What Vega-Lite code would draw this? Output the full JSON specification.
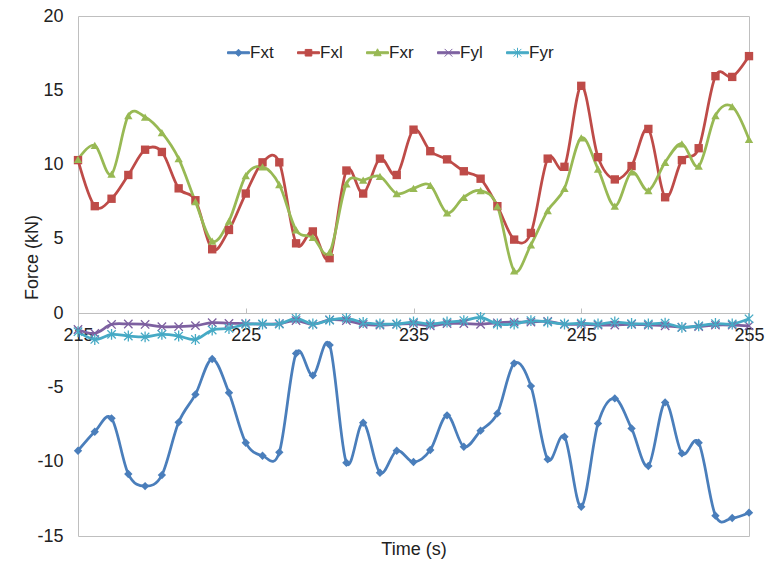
{
"$schema": "https://vega.github.io/schema/vega-lite/v6.json",
"width": 671, "height": 520,
"autosize": "none",
"padding": {"left": 78, "top": 16, "right": 19, "bottom": 33},
"background": "white",
"config": {"view": {"stroke": "#bfbfbf", "strokeWidth": 1}, "font": "Liberation Sans", "axis": {"grid": false}},
"data": {"values": [
{"t":215,"s":"Fxt","v":-9.26},{"t":216,"s":"Fxt","v":-7.98},{"t":217,"s":"Fxt","v":-7.08},{"t":218,"s":"Fxt","v":-10.83},{"t":219,"s":"Fxt","v":-11.64},{"t":220,"s":"Fxt","v":-10.9},{"t":221,"s":"Fxt","v":-7.35},{"t":222,"s":"Fxt","v":-5.47},{"t":223,"s":"Fxt","v":-3.09},{"t":224,"s":"Fxt","v":-5.36},{"t":225,"s":"Fxt","v":-8.72},{"t":226,"s":"Fxt","v":-9.6},{"t":227,"s":"Fxt","v":-9.37},{"t":228,"s":"Fxt","v":-2.71},{"t":229,"s":"Fxt","v":-4.19},{"t":230,"s":"Fxt","v":-2.15},{"t":231,"s":"Fxt","v":-10.07},{"t":232,"s":"Fxt","v":-7.38},{"t":233,"s":"Fxt","v":-10.74},{"t":234,"s":"Fxt","v":-9.26},{"t":235,"s":"Fxt","v":-10.02},{"t":236,"s":"Fxt","v":-9.21},{"t":237,"s":"Fxt","v":-6.88},{"t":238,"s":"Fxt","v":-8.99},{"t":239,"s":"Fxt","v":-7.91},{"t":240,"s":"Fxt","v":-6.75},{"t":241,"s":"Fxt","v":-3.38},{"t":242,"s":"Fxt","v":-4.91},{"t":243,"s":"Fxt","v":-9.84},{"t":244,"s":"Fxt","v":-8.32},{"t":245,"s":"Fxt","v":-13.03},{"t":246,"s":"Fxt","v":-7.42},{"t":247,"s":"Fxt","v":-5.74},{"t":248,"s":"Fxt","v":-7.76},{"t":249,"s":"Fxt","v":-10.29},{"t":250,"s":"Fxt","v":-6.01},{"t":251,"s":"Fxt","v":-9.44},{"t":252,"s":"Fxt","v":-8.72},{"t":253,"s":"Fxt","v":-13.63},{"t":254,"s":"Fxt","v":-13.79},{"t":255,"s":"Fxt","v":-13.43},
{"t":215,"s":"Fxl","v":10.3},{"t":216,"s":"Fxl","v":7.2},{"t":217,"s":"Fxl","v":7.7},{"t":218,"s":"Fxl","v":9.3},{"t":219,"s":"Fxl","v":11.0},{"t":220,"s":"Fxl","v":10.85},{"t":221,"s":"Fxl","v":8.4},{"t":222,"s":"Fxl","v":7.6},{"t":223,"s":"Fxl","v":4.3},{"t":224,"s":"Fxl","v":5.6},{"t":225,"s":"Fxl","v":8.05},{"t":226,"s":"Fxl","v":10.15},{"t":227,"s":"Fxl","v":10.15},{"t":228,"s":"Fxl","v":4.7},{"t":229,"s":"Fxl","v":5.5},{"t":230,"s":"Fxl","v":3.7},{"t":231,"s":"Fxl","v":9.6},{"t":232,"s":"Fxl","v":8.05},{"t":233,"s":"Fxl","v":10.4},{"t":234,"s":"Fxl","v":9.3},{"t":235,"s":"Fxl","v":12.35},{"t":236,"s":"Fxl","v":10.9},{"t":237,"s":"Fxl","v":10.35},{"t":238,"s":"Fxl","v":9.55},{"t":239,"s":"Fxl","v":9.05},{"t":240,"s":"Fxl","v":7.2},{"t":241,"s":"Fxl","v":4.95},{"t":242,"s":"Fxl","v":5.4},{"t":243,"s":"Fxl","v":10.4},{"t":244,"s":"Fxl","v":9.85},{"t":245,"s":"Fxl","v":15.3},{"t":246,"s":"Fxl","v":10.5},{"t":247,"s":"Fxl","v":9.0},{"t":248,"s":"Fxl","v":9.9},{"t":249,"s":"Fxl","v":12.4},{"t":250,"s":"Fxl","v":7.8},{"t":251,"s":"Fxl","v":10.3},{"t":252,"s":"Fxl","v":11.1},{"t":253,"s":"Fxl","v":15.95},{"t":254,"s":"Fxl","v":15.9},{"t":255,"s":"Fxl","v":17.3},
{"t":215,"s":"Fxr","v":10.35},{"t":216,"s":"Fxr","v":11.3},{"t":217,"s":"Fxr","v":9.35},{"t":218,"s":"Fxr","v":13.3},{"t":219,"s":"Fxr","v":13.2},{"t":220,"s":"Fxr","v":12.15},{"t":221,"s":"Fxr","v":10.4},{"t":222,"s":"Fxr","v":7.5},{"t":223,"s":"Fxr","v":4.85},{"t":224,"s":"Fxr","v":6.2},{"t":225,"s":"Fxr","v":9.25},{"t":226,"s":"Fxr","v":9.85},{"t":227,"s":"Fxr","v":8.65},{"t":228,"s":"Fxr","v":5.6},{"t":229,"s":"Fxr","v":5.1},{"t":230,"s":"Fxr","v":4.1},{"t":231,"s":"Fxr","v":8.7},{"t":232,"s":"Fxr","v":8.95},{"t":233,"s":"Fxr","v":9.2},{"t":234,"s":"Fxr","v":8.05},{"t":235,"s":"Fxr","v":8.4},{"t":236,"s":"Fxr","v":8.6},{"t":237,"s":"Fxr","v":6.75},{"t":238,"s":"Fxr","v":7.8},{"t":239,"s":"Fxr","v":8.25},{"t":240,"s":"Fxr","v":7.2},{"t":241,"s":"Fxr","v":2.85},{"t":242,"s":"Fxr","v":4.6},{"t":243,"s":"Fxr","v":6.9},{"t":244,"s":"Fxr","v":8.4},{"t":245,"s":"Fxr","v":11.8},{"t":246,"s":"Fxr","v":9.7},{"t":247,"s":"Fxr","v":7.2},{"t":248,"s":"Fxr","v":9.5},{"t":249,"s":"Fxr","v":8.25},{"t":250,"s":"Fxr","v":10.15},{"t":251,"s":"Fxr","v":11.4},{"t":252,"s":"Fxr","v":9.9},{"t":253,"s":"Fxr","v":13.3},{"t":254,"s":"Fxr","v":13.9},{"t":255,"s":"Fxr","v":11.7},
{"t":215,"s":"Fyl","v":-1.1},{"t":216,"s":"Fyl","v":-1.36},{"t":217,"s":"Fyl","v":-0.76},{"t":218,"s":"Fyl","v":-0.73},{"t":219,"s":"Fyl","v":-0.76},{"t":220,"s":"Fyl","v":-0.91},{"t":221,"s":"Fyl","v":-0.91},{"t":222,"s":"Fyl","v":-0.84},{"t":223,"s":"Fyl","v":-0.64},{"t":224,"s":"Fyl","v":-0.69},{"t":225,"s":"Fyl","v":-0.7},{"t":226,"s":"Fyl","v":-0.75},{"t":227,"s":"Fyl","v":-0.7},{"t":228,"s":"Fyl","v":-0.5},{"t":229,"s":"Fyl","v":-0.75},{"t":230,"s":"Fyl","v":-0.45},{"t":231,"s":"Fyl","v":-0.5},{"t":232,"s":"Fyl","v":-0.75},{"t":233,"s":"Fyl","v":-0.8},{"t":234,"s":"Fyl","v":-0.75},{"t":235,"s":"Fyl","v":-0.7},{"t":236,"s":"Fyl","v":-0.85},{"t":237,"s":"Fyl","v":-0.7},{"t":238,"s":"Fyl","v":-0.7},{"t":239,"s":"Fyl","v":-0.75},{"t":240,"s":"Fyl","v":-0.65},{"t":241,"s":"Fyl","v":-0.6},{"t":242,"s":"Fyl","v":-0.6},{"t":243,"s":"Fyl","v":-0.55},{"t":244,"s":"Fyl","v":-0.75},{"t":245,"s":"Fyl","v":-0.75},{"t":246,"s":"Fyl","v":-0.8},{"t":247,"s":"Fyl","v":-0.8},{"t":248,"s":"Fyl","v":-0.75},{"t":249,"s":"Fyl","v":-0.8},{"t":250,"s":"Fyl","v":-0.85},{"t":251,"s":"Fyl","v":-0.95},{"t":252,"s":"Fyl","v":-0.9},{"t":253,"s":"Fyl","v":-0.8},{"t":254,"s":"Fyl","v":-0.8},{"t":255,"s":"Fyl","v":-0.85},
{"t":215,"s":"Fyr","v":-1.25},{"t":216,"s":"Fyr","v":-1.77},{"t":217,"s":"Fyr","v":-1.43},{"t":218,"s":"Fyr","v":-1.54},{"t":219,"s":"Fyr","v":-1.6},{"t":220,"s":"Fyr","v":-1.43},{"t":221,"s":"Fyr","v":-1.54},{"t":222,"s":"Fyr","v":-1.77},{"t":223,"s":"Fyr","v":-1.14},{"t":224,"s":"Fyr","v":-1.03},{"t":225,"s":"Fyr","v":-0.75},{"t":226,"s":"Fyr","v":-0.73},{"t":227,"s":"Fyr","v":-0.73},{"t":228,"s":"Fyr","v":-0.35},{"t":229,"s":"Fyr","v":-0.73},{"t":230,"s":"Fyr","v":-0.47},{"t":231,"s":"Fyr","v":-0.35},{"t":232,"s":"Fyr","v":-0.63},{"t":233,"s":"Fyr","v":-0.73},{"t":234,"s":"Fyr","v":-0.73},{"t":235,"s":"Fyr","v":-0.6},{"t":236,"s":"Fyr","v":-0.73},{"t":237,"s":"Fyr","v":-0.6},{"t":238,"s":"Fyr","v":-0.5},{"t":239,"s":"Fyr","v":-0.29},{"t":240,"s":"Fyr","v":-0.73},{"t":241,"s":"Fyr","v":-0.73},{"t":242,"s":"Fyr","v":-0.5},{"t":243,"s":"Fyr","v":-0.6},{"t":244,"s":"Fyr","v":-0.73},{"t":245,"s":"Fyr","v":-0.67},{"t":246,"s":"Fyr","v":-0.73},{"t":247,"s":"Fyr","v":-0.6},{"t":248,"s":"Fyr","v":-0.7},{"t":249,"s":"Fyr","v":-0.73},{"t":250,"s":"Fyr","v":-0.68},{"t":251,"s":"Fyr","v":-0.96},{"t":252,"s":"Fyr","v":-0.85},{"t":253,"s":"Fyr","v":-0.7},{"t":254,"s":"Fyr","v":-0.73},{"t":255,"s":"Fyr","v":-0.38}
]},
"encoding": {
  "x": {"field": "t", "type": "quantitative", "scale": {"domain": [215, 255], "nice": false, "zero": false},
    "axis": {"values": [215, 225, 235, 245, 255], "title": "Time (s)", "offset": -223, "domainColor": "#bfbfbf", "tickColor": "#bfbfbf", "tickSize": -5, "labelFlush": false, "labelOverlap": false, "labelFontSize": 18, "labelColor": "#222", "labelPadding": 18, "titleFontSize": 18, "titleFontWeight": "normal", "titleColor": "#222", "titleY": 236, "titleBaseline": "middle", "format": "d"}},
  "y": {"field": "v", "type": "quantitative", "scale": {"domain": [-15, 20], "nice": false},
    "axis": {"values": [-15, -10, -5, 0, 5, 10, 15, 20], "labelExpr": "toString(datum.value)", "title": "Force (kN)", "domain": false, "ticks": false, "labelPadding": 15, "labelFlush": false, "labelFontSize": 18, "labelColor": "#222", "titleFontSize": 18, "titleFontWeight": "normal", "titleColor": "#222", "titleX": -46, "titleY": 241, "titleBaseline": "middle", "titleAlign": "center"}}
},
"layer": [
  {"mark": {"type": "line", "interpolate": "cardinal", "strokeWidth": 2.75},
   "encoding": {"color": {"field": "s", "type": "nominal",
     "scale": {"domain": ["Fxt", "Fxl", "Fxr", "Fyl", "Fyr"], "range": ["#4a7ebb", "#be4b48", "#98b954", "#7d60a0", "#46aac5"]},
     "legend": {"orient": "none", "legendX": 149, "legendY": 25, "direction": "horizontal", "title": null, "padding": 0,
       "labelFontSize": 17, "labelColor": "#222", "symbolSize": 484, "labelOffset": 0, "columnPadding": 21,
       "encode": {"symbols": {"update": {
         "shape": {"signal": "datum.value==='Fxt'?'M-1,-0.09H1V0.09H-1ZM0,-0.32L0.32,0L0,0.32L-0.32,0Z':datum.value==='Fxl'?'M-1,-0.09H1V0.09H-1ZM-0.3,-0.3H0.3V0.3H-0.3Z':datum.value==='Fxr'?'M-1,-0.09H1V0.09H-1ZM0,-0.36L0.33,0.27H-0.33Z':datum.value==='Fyl'?'M-1,-0.09H1V0.09H-1ZM-0.35,-0.35L0.35,0.35M-0.35,0.35L0.35,-0.35':'M-1,-0.09H1V0.09H-1ZM-0.35,-0.35L0.35,0.35M-0.35,0.35L0.35,-0.35M0,-0.45V0.45'"},
         "fill": {"signal": "datum.value==='Fxt'?'#4a7ebb':datum.value==='Fxl'?'#be4b48':datum.value==='Fxr'?'#98b954':datum.value==='Fyl'?'#7d60a0':'#46aac5'"},
         "stroke": {"signal": "datum.value==='Fxt'?'#4a7ebb':datum.value==='Fxl'?'#be4b48':datum.value==='Fxr'?'#98b954':datum.value==='Fyl'?'#7d60a0':'#46aac5'"},
         "strokeWidth": {"value": 1},
         "opacity": {"value": 1}
       }}}
     }}}},
  {"transform": [{"filter": "datum.s === 'Fxt'"}],
   "mark": {"type": "point", "shape": "diamond", "filled": true, "opacity": 1, "size": 70, "strokeWidth": 1, "color": "#4a7ebb"},
   "encoding": {}},
  {"transform": [{"filter": "datum.s === 'Fxl'"}],
   "mark": {"type": "point", "shape": "square", "filled": true, "opacity": 1, "size": 70, "strokeWidth": 1, "color": "#be4b48"},
   "encoding": {}},
  {"transform": [{"filter": "datum.s === 'Fxr'"}],
   "mark": {"type": "point", "shape": "triangle-up", "filled": true, "opacity": 1, "size": 70, "strokeWidth": 1, "color": "#98b954"},
   "encoding": {}},
  {"transform": [{"filter": "datum.s === 'Fyl'"}],
   "mark": {"type": "point", "shape": "M-1,-1L1,1M-1,1L1,-1", "filled": false, "opacity": 1, "size": 70, "strokeWidth": 1.3, "color": "#7d60a0"},
   "encoding": {}},
  {"transform": [{"filter": "datum.s === 'Fyr'"}],
   "mark": {"type": "point", "shape": "M-1,-1L1,1M-1,1L1,-1M0,-1.3V1.3", "filled": false, "opacity": 1, "size": 70, "strokeWidth": 1.3, "color": "#46aac5"},
   "encoding": {}}
]
}
